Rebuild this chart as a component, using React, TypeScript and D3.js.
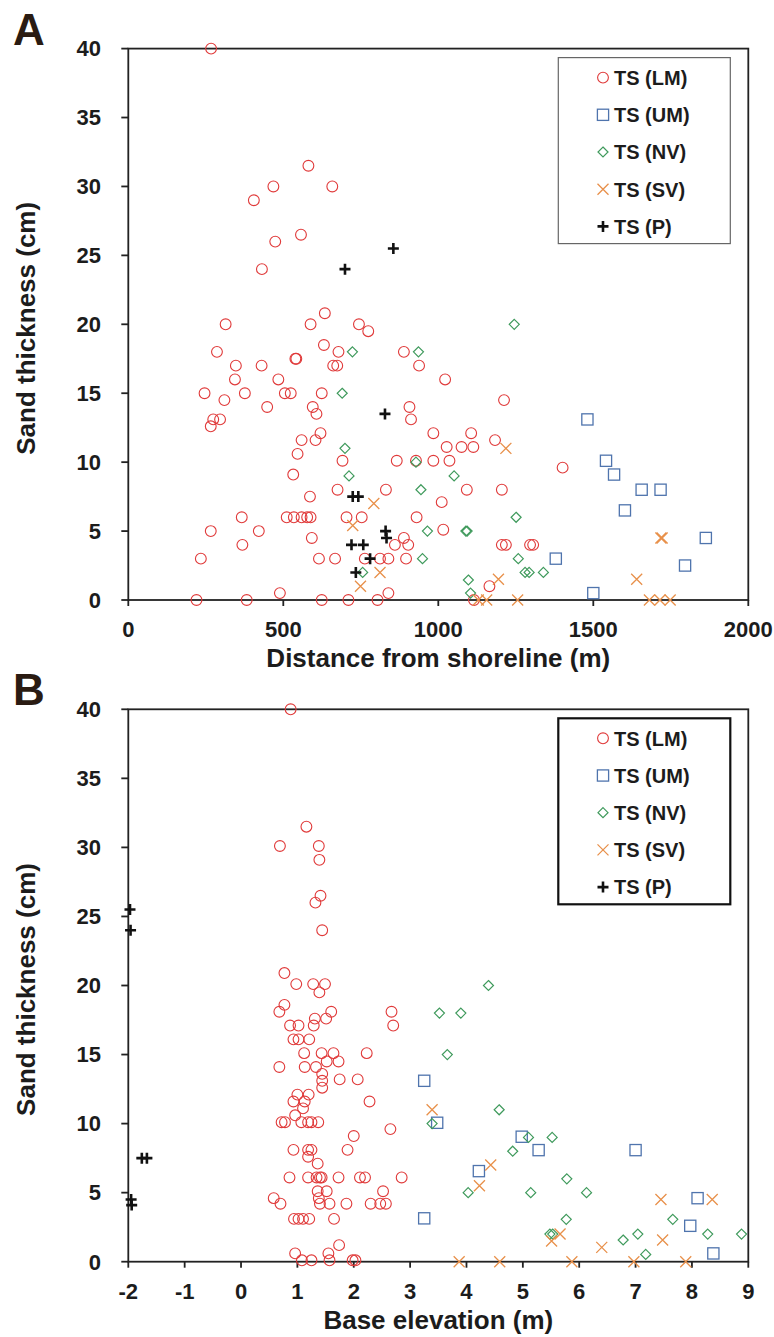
import React from "react";
import * as d3 from "d3";

type Pt = [number, number];

const seriesNames = ["TS (LM)", "TS (UM)", "TS (NV)", "TS (SV)", "TS (P)"];
const yTicks = [0, 5, 10, 15, 20, 25, 30, 35, 40];
const xTicksA = [0, 500, 1000, 1500, 2000];
const xTicksB = [-2, -1, 0, 1, 2, 3, 4, 5, 6, 7, 8, 9];

// Panel A: distance from shoreline (m) vs sand thickness (cm)
const aLM: Pt[] = [
  [267, 40], [581, 31.5], [468, 30], [658, 30], [405, 29], [557, 26.5], [474, 26], [431, 24],
  [634, 20.8], [314, 20], [588, 20], [744, 20], [774, 19.5], [286, 18], [631, 18.5], [678, 18],
  [889, 18], [347, 17], [430, 17], [539, 17.5], [542, 17.5], [661, 17], [674, 17], [246, 15],
  [310, 14.5], [344, 16], [376, 15], [484, 16], [505, 15], [524, 15], [448, 14], [624, 15],
  [274, 13.1], [296, 13.1], [266, 12.6], [595, 14], [607, 13.5], [559, 11.6], [604, 11.6],
  [620, 12.1], [546, 10.6], [691, 10.1], [866, 10.1], [532, 9.1], [675, 8], [831, 8], [586, 7.5],
  [511, 6], [534, 6], [559, 6], [577, 6], [588, 6], [704, 6], [753, 6], [366, 6], [266, 5],
  [421, 5], [592, 4.5], [368, 4], [860, 4], [234, 3], [615, 3], [667, 3], [763, 3], [812, 3],
  [839, 3], [489, 0.5], [839, 0.5], [220, 0], [382, 0], [624, 0], [710, 0], [804, 0],
  [938, 17], [1022, 16], [1212, 14.5], [907, 14], [912, 13.1], [984, 12.1], [1106, 12.1],
  [1183, 11.6], [1027, 11.1], [1075, 11.1], [1113, 11.1], [928, 10.1], [984, 10.1], [1036, 10.1],
  [1401, 9.6], [1092, 8], [1205, 8], [1011, 7.1], [930, 6], [1016, 5.1], [889, 4.5], [903, 4],
  [1205, 4], [1218, 4], [1296, 4], [1306, 4], [896, 3], [1165, 1], [1115, 0],
];
const aUM: Pt[] = [
  [1481, 13.1], [1541, 10.1], [1567, 9.1], [1656, 8], [1717, 8], [1602, 6.5], [1863, 4.5],
  [1379, 3], [1796, 2.5], [1500, 0.5],
];
const aNV: Pt[] = [
  [723, 18], [690, 15], [699, 11], [712, 9], [756, 2], [1245, 20], [936, 18], [928, 10],
  [1051, 9], [944, 8], [1251, 6], [965, 5], [1089, 5], [1093, 5], [949, 3], [1258, 3],
  [1280, 2], [1293, 2], [1339, 2], [1097, 1.45], [1104, 0.5],
];
const aSV: Pt[] = [
  [792, 7], [724, 5.4], [812, 2], [749, 1], [1218, 11], [1718, 4.5], [1722, 4.5], [1194, 1.5],
  [1640, 1.5], [1129, 0], [1156, 0], [1256, 0], [1681, 0], [1715, 0], [1748, 0],
];
const aP: Pt[] = [
  [699, 24], [855, 25.5], [828, 13.5], [724, 7.5], [742, 7.5], [830, 5], [833, 4.5],
  [720, 4], [758, 4], [780, 3], [734, 2],
];

// Panel B: base elevation (m) vs sand thickness (cm)
const bLM: Pt[] = [
  [0.88, 40], [1.16, 31.5], [0.69, 30.1], [1.38, 30.1], [1.39, 29.1], [1.41, 26.5], [1.32, 26.0],
  [1.44, 24.0], [0.77, 20.9], [0.98, 20.1], [1.28, 20.1], [1.49, 20.1], [1.39, 19.5], [0.77, 18.6],
  [0.68, 18.1], [1.6, 18.1], [2.67, 18.1], [2.7, 17.1], [0.87, 17.1], [1.02, 17.1], [1.29, 17.1],
  [1.31, 17.6], [1.51, 17.6], [0.93, 16.1], [1.02, 16.1], [1.21, 16.1], [1.12, 15.1], [1.43, 15.1],
  [1.64, 15.1], [2.23, 15.1], [0.68, 14.1], [1.13, 14.1], [1.33, 14.1], [1.52, 14.5], [1.73, 14.5],
  [1.44, 13.6], [1.44, 13.1], [1.44, 12.6], [1.75, 13.2], [2.07, 13.2], [2.28, 11.6], [1.0, 12.1],
  [1.2, 12.1], [0.93, 11.6], [1.13, 11.6], [1.1, 11.1], [0.96, 10.6], [0.72, 10.1], [0.78, 10.1],
  [1.07, 10.1], [1.19, 10.1], [1.25, 10.1], [1.37, 10.1], [2.65, 9.6], [2.0, 9.1], [1.89, 8.1],
  [0.93, 8.1], [1.19, 8.1], [1.25, 8.1], [1.19, 7.6], [1.36, 7.1], [0.86, 6.1], [1.19, 6.1],
  [1.34, 6.1], [1.4, 6.1], [1.43, 6.1], [1.73, 6.1], [2.11, 6.1], [2.2, 6.1], [2.85, 6.1],
  [0.58, 4.6], [0.7, 4.2], [1.36, 5.1], [1.52, 5.1], [1.38, 4.6], [1.4, 4.2], [1.57, 4.2],
  [1.87, 4.2], [2.52, 5.1], [2.3, 4.2], [2.47, 4.2], [2.57, 4.2], [0.94, 3.1], [1.02, 3.1],
  [1.1, 3.1], [1.21, 3.1], [1.65, 3.1], [0.96, 0.6], [1.74, 1.2], [1.55, 0.6], [1.08, 0.1],
  [1.25, 0.1], [1.57, 0.1], [1.98, 0.1], [2.03, 0.1],
];
const bUM: Pt[] = [
  [3.25, 13.1], [3.48, 10.06], [4.98, 9.05], [5.28, 8.08], [7.0, 8.08], [4.22, 6.56],
  [8.1, 4.6], [3.25, 3.14], [7.97, 2.6], [8.38, 0.6],
];
const bNV: Pt[] = [
  [4.39, 20], [3.52, 18], [3.9, 18], [3.66, 15], [3.39, 10], [4.58, 11], [5.1, 9], [5.52, 9],
  [4.82, 8], [5.78, 6], [4.03, 5], [5.14, 5], [6.13, 5], [5.77, 3.07], [7.66, 3.07], [8.28, 2],
  [8.88, 2], [7.04, 2], [6.78, 1.57], [7.18, 0.53], [5.48, 2], [5.53, 2],
];
const bSV: Pt[] = [
  [3.39, 11], [4.43, 7], [4.23, 5.5], [7.45, 4.5], [8.36, 4.5], [5.66, 2], [5.51, 1.5],
  [7.48, 1.57], [6.4, 1.04], [3.87, 0], [4.59, 0], [5.87, 0], [6.97, 0], [7.89, 0],
];
const bP: Pt[] = [
  [-1.97, 25.5], [-1.96, 24], [-1.76, 7.5], [-1.67, 7.5], [-1.95, 4.5], [-1.94, 4.1],
];

const COLORS = ["#e03a3a", "#4f74ad", "#3f9a5c", "#e8904a", "#111111"];
const FONT = "'Liberation Sans', Arial, Helvetica, sans-serif";
const TEXT = "#1c1c1c";

function Marker({ kind, x, y }: { kind: number; x: number; y: number }) {
  const c = COLORS[kind];
  const t = `translate(${x},${y})`;
  if (kind === 0) return <circle transform={t} r={5.4} fill="none" stroke={c} strokeWidth={1.1} />;
  if (kind === 1) return <rect transform={t} x={-5.6} y={-5.6} width={11.2} height={11.2} fill="none" stroke={c} strokeWidth={1.3} />;
  if (kind === 2) return <path transform={t} d="M0,-5L5,0L0,5L-5,0Z" fill="none" stroke={c} strokeWidth={1.2} />;
  if (kind === 3) return <path transform={t} d="M-5.5,-5.5L5.5,5.5M-5.5,5.5L5.5,-5.5" fill="none" stroke={c} strokeWidth={1.3} />;
  return <path transform={t} d="M-5.5,0L5.5,0M0,-5.5L0,5.5" fill="none" stroke={c} strokeWidth={2.6} />;
}

type PanelProps = {
  label: string;
  top: number;
  bottom: number;
  xDomain: [number, number];
  xTicks: number[];
  xTitle: string;
  series: Pt[][];
  legendStroke: string;
  legendWidth: number;
};

const LEFT = 128.3;
const RIGHT = 748.3;

function Panel(p: PanelProps) {
  const x = d3.scaleLinear().domain(p.xDomain).range([LEFT, RIGHT]);
  const y = d3.scaleLinear().domain([0, 40]).range([p.bottom, p.top]);
  const midY = (p.top + p.bottom) / 2;
  const lgTop = p.top + 9;
  const lgLeft = 558.3;
  const lgW = 172;
  const lgH = 186;
  return (
    <g>
      <text x={13} y={p.top - 4} fontFamily={FONT} fontWeight="bold" fontSize={44} fill="#2a1b12">{p.label}</text>
      {/* frame */}
      <rect x={LEFT} y={p.top} width={RIGHT - LEFT} height={p.bottom - p.top} fill="white" stroke="#222" strokeWidth={1.8} />
      {/* y ticks */}
      {yTicks.map((t) => (
        <g key={"y" + t}>
          <line x1={LEFT - 7} x2={LEFT} y1={y(t)} y2={y(t)} stroke="#222" strokeWidth={1.8} />
          <text x={101} y={y(t) + 7.8} textAnchor="end" fontFamily={FONT} fontWeight="bold" fontSize={22} fill={TEXT}>{t}</text>
        </g>
      ))}
      {p.xTicks.map((t) => (
        <g key={"x" + t}>
          <line x1={x(t)} x2={x(t)} y1={p.bottom} y2={p.bottom + 6} stroke="#222" strokeWidth={1.8} />
          <text x={x(t)} y={p.bottom + 37} textAnchor="middle" fontFamily={FONT} fontWeight="bold" fontSize={22} fill={TEXT}>{t}</text>
        </g>
      ))}
      <text x={(LEFT + RIGHT) / 2} y={p.bottom + 67} textAnchor="middle" fontFamily={FONT} fontWeight="bold" fontSize={26} fill={TEXT}>{p.xTitle}</text>
      <text transform={`translate(35,${midY + 4}) rotate(-90)`} textAnchor="middle" fontFamily={FONT} fontWeight="bold" fontSize={26} fill={TEXT}>Sand thickness (cm)</text>
      {/* points */}
      {p.series.map((s, k) => (
        <g key={"s" + k}>
          {s.map((d, i) => (
            <Marker key={i} kind={k} x={x(d[0])} y={y(d[1])} />
          ))}
        </g>
      ))}
      {/* legend */}
      <rect x={lgLeft} y={lgTop} width={lgW} height={lgH} fill="white" stroke={p.legendStroke} strokeWidth={p.legendWidth} />
      {seriesNames.map((n, i) => {
        const cy = lgTop + 20 + i * 37.2;
        return (
          <g key={n}>
            <Marker kind={i} x={603} y={cy} />
            <text x={614} y={cy + 7.3} fontFamily={FONT} fontWeight="bold" fontSize={20} fill={TEXT}>{n}</text>
          </g>
        );
      })}
    </g>
  );
}

export default function App() {
  return (
    <svg width={774} height={1337} style={{ position: "absolute", left: 0, top: 0, background: "white" }}>
      <rect x={0} y={0} width={774} height={1337} fill="white" />
      <Panel
        label="A"
        top={48.6}
        bottom={600}
        xDomain={[0, 2000]}
        xTicks={xTicksA}
        xTitle="Distance from shoreline (m)"
        series={[aLM, aUM, aNV, aSV, aP]}
        legendStroke="#666"
        legendWidth={1.2}
      />
      <Panel
        label="B"
        top={709.3}
        bottom={1261.7}
        xDomain={[-2, 9]}
        xTicks={xTicksB}
        xTitle="Base elevation (m)"
        series={[bLM, bUM, bNV, bSV, bP]}
        legendStroke="#111"
        legendWidth={2.2}
      />
    </svg>
  );
}
